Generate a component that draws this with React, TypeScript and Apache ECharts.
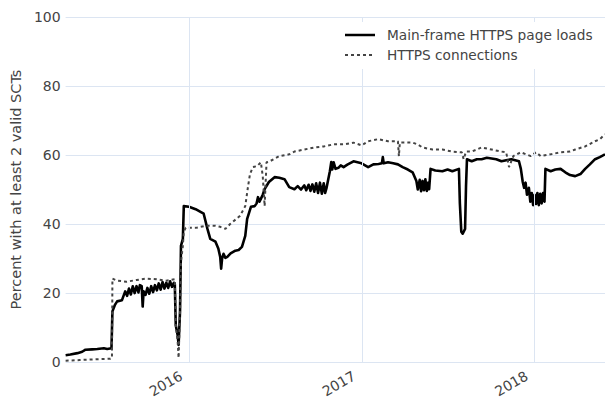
import React, { useEffect, useRef } from "react";
import * as echarts from "echarts";

const yearTicks: string[] = ["2016-01-01", "2017-01-01", "2018-01-01"];
const xRange: string[] = ["2015-04-15", "2018-05-30"];
const yTicks: number[] = [0, 20, 40, 60, 80, 100];
const seriesNames: string[] = ["Main-frame HTTPS page loads", "HTTPS connections"];

const mainFrameLoads: [string, number][] = [
  ["2015-04-15", 2.0], ["2015-04-25", 2.2], ["2015-05-10", 2.6], ["2015-05-20", 3.0], ["2015-05-27", 3.6],
  ["2015-06-10", 3.7], ["2015-06-21", 3.8], ["2015-07-05", 4.0], ["2015-07-12", 3.8], ["2015-07-21", 4.0],
  ["2015-07-23", 14.7], ["2015-07-28", 16.5], ["2015-08-02", 17.6], ["2015-08-12", 17.9], ["2015-08-19", 20.5],
  ["2015-08-23", 19.2], ["2015-08-27", 21.3], ["2015-08-31", 19.6], ["2015-09-04", 22.0], ["2015-09-08", 20.0],
  ["2015-09-12", 22.0], ["2015-09-16", 20.2], ["2015-09-19", 22.3], ["2015-09-23", 22.0], ["2015-09-25", 16.1],
  ["2015-09-27", 20.5], ["2015-10-01", 19.5], ["2015-10-05", 21.5], ["2015-10-09", 19.8], ["2015-10-13", 22.0],
  ["2015-10-17", 20.3], ["2015-10-21", 22.3], ["2015-10-25", 20.8], ["2015-10-29", 22.8], ["2015-11-02", 21.0],
  ["2015-11-06", 23.2], ["2015-11-10", 21.3], ["2015-11-14", 23.0], ["2015-11-18", 21.5], ["2015-11-22", 23.4],
  ["2015-11-26", 21.8], ["2015-11-30", 23.0], ["2015-12-02", 22.5], ["2015-12-04", 10.7], ["2015-12-08", 7.8],
  ["2015-12-10", 5.0], ["2015-12-13", 14.7], ["2015-12-15", 33.7], ["2015-12-19", 35.7], ["2015-12-21", 45.2],
  ["2016-01-01", 45.0], ["2016-01-15", 44.3], ["2016-02-01", 43.0], ["2016-02-09", 38.6], ["2016-02-15", 35.7],
  ["2016-02-26", 34.9], ["2016-03-03", 32.9], ["2016-03-07", 30.5], ["2016-03-09", 27.1], ["2016-03-11", 30.0],
  ["2016-03-14", 31.4], ["2016-03-18", 30.2], ["2016-03-22", 30.5], ["2016-03-29", 31.5], ["2016-04-08", 32.3],
  ["2016-04-15", 32.5], ["2016-04-22", 33.4], ["2016-04-29", 36.6], ["2016-05-03", 41.5], ["2016-05-11", 45.0],
  ["2016-05-19", 45.2], ["2016-05-23", 46.0], ["2016-05-26", 47.8], ["2016-05-29", 46.5], ["2016-06-01", 47.3],
  ["2016-06-05", 48.5], ["2016-06-09", 50.1], ["2016-06-18", 52.2], ["2016-06-30", 53.6], ["2016-07-10", 53.4],
  ["2016-07-21", 53.0], ["2016-07-31", 50.7], ["2016-08-11", 50.1], ["2016-08-18", 51.0], ["2016-08-25", 50.0],
  ["2016-09-01", 51.2], ["2016-09-05", 49.8], ["2016-09-10", 51.4], ["2016-09-14", 49.6], ["2016-09-18", 51.5],
  ["2016-09-22", 49.4], ["2016-09-26", 51.8], ["2016-09-30", 49.0], ["2016-10-04", 52.0], ["2016-10-08", 48.8],
  ["2016-10-12", 51.8], ["2016-10-15", 49.0], ["2016-10-18", 50.5], ["2016-10-25", 55.3], ["2016-10-28", 58.0],
  ["2016-10-30", 55.8], ["2016-11-02", 57.9], ["2016-11-06", 56.0], ["2016-11-12", 56.3], ["2016-11-17", 57.0],
  ["2016-11-23", 56.5], ["2016-12-01", 57.2], ["2016-12-14", 58.2], ["2016-12-31", 57.6], ["2017-01-14", 56.5],
  ["2017-01-25", 57.3], ["2017-02-05", 57.4], ["2017-02-12", 57.6], ["2017-02-14", 59.4], ["2017-02-16", 57.6],
  ["2017-02-25", 57.9], ["2017-03-08", 57.6], ["2017-03-18", 57.3], ["2017-03-28", 56.5], ["2017-04-08", 55.8],
  ["2017-04-18", 55.0], ["2017-04-26", 52.5], ["2017-04-29", 50.0], ["2017-05-03", 52.8], ["2017-05-06", 49.5],
  ["2017-05-09", 52.5], ["2017-05-12", 49.8], ["2017-05-15", 53.0], ["2017-05-18", 49.6], ["2017-05-21", 52.0],
  ["2017-05-23", 50.1], ["2017-05-26", 56.0], ["2017-06-05", 55.5], ["2017-06-20", 55.3], ["2017-07-01", 55.8],
  ["2017-07-11", 55.3], ["2017-07-25", 56.0], ["2017-07-27", 46.0], ["2017-07-30", 37.8], ["2017-08-02", 37.2],
  ["2017-08-07", 38.6], ["2017-08-09", 51.0], ["2017-08-11", 58.8], ["2017-08-21", 58.2], ["2017-09-01", 58.8],
  ["2017-09-11", 58.8], ["2017-09-22", 59.2], ["2017-10-02", 59.0], ["2017-10-12", 58.8], ["2017-10-23", 58.2],
  ["2017-11-02", 58.5], ["2017-11-13", 58.8], ["2017-11-29", 58.2], ["2017-12-03", 56.0], ["2017-12-07", 52.2],
  ["2017-12-10", 50.5], ["2017-12-13", 52.0], ["2017-12-16", 48.5], ["2017-12-20", 50.5], ["2017-12-23", 46.5],
  ["2017-12-26", 49.0], ["2017-12-29", 45.5], ["2018-01-01", 48.5], ["2018-01-04", 45.8], ["2018-01-07", 49.0],
  ["2018-01-10", 45.5], ["2018-01-13", 48.8], ["2018-01-16", 46.0], ["2018-01-19", 49.0], ["2018-01-22", 46.5],
  ["2018-01-24", 56.0], ["2018-02-04", 55.3], ["2018-02-14", 55.8], ["2018-02-25", 56.0], ["2018-03-07", 55.0],
  ["2018-03-17", 54.2], ["2018-03-28", 53.9], ["2018-04-08", 54.5], ["2018-04-18", 56.0], ["2018-04-28", 57.3],
  ["2018-05-09", 58.8], ["2018-05-19", 59.4], ["2018-05-30", 60.2],
];

const httpsConnections: [string, number][] = [
  ["2015-04-15", 0.4], ["2015-05-15", 0.6], ["2015-06-15", 0.8], ["2015-07-19", 1.0], ["2015-07-22", 1.2],
  ["2015-07-23", 24.2], ["2015-08-02", 23.6], ["2015-08-22", 23.3], ["2015-09-12", 23.8], ["2015-10-03", 24.2],
  ["2015-10-24", 24.0], ["2015-11-14", 23.6], ["2015-12-02", 24.0], ["2015-12-04", 10.7], ["2015-12-08", 6.0],
  ["2015-12-10", 1.2], ["2015-12-13", 14.7], ["2015-12-15", 29.0], ["2015-12-19", 33.7], ["2015-12-21", 37.8],
  ["2015-12-25", 38.9], ["2016-01-15", 38.9], ["2016-02-05", 39.5], ["2016-02-26", 39.5], ["2016-03-07", 39.2],
  ["2016-03-18", 38.6], ["2016-03-28", 40.0], ["2016-04-18", 42.4], ["2016-04-29", 45.2], ["2016-05-05", 51.0],
  ["2016-05-09", 54.5], ["2016-05-15", 56.5], ["2016-05-24", 56.8], ["2016-06-01", 57.9], ["2016-06-05", 53.9],
  ["2016-06-09", 45.2], ["2016-06-13", 57.9], ["2016-06-20", 58.2], ["2016-07-10", 59.7], ["2016-07-31", 60.2],
  ["2016-08-11", 61.0], ["2016-09-01", 61.6], ["2016-09-22", 62.2], ["2016-10-12", 62.5], ["2016-11-02", 63.1],
  ["2016-11-23", 63.1], ["2016-12-14", 63.6], ["2016-12-31", 62.8], ["2017-01-14", 64.0], ["2017-02-04", 64.6],
  ["2017-02-25", 64.0], ["2017-03-18", 64.0], ["2017-03-20", 59.7], ["2017-03-22", 63.6], ["2017-04-18", 63.6],
  ["2017-04-28", 63.1], ["2017-05-09", 62.2], ["2017-05-30", 61.6], ["2017-06-20", 61.6], ["2017-07-11", 61.0],
  ["2017-07-31", 60.8], ["2017-08-04", 58.8], ["2017-08-09", 61.0], ["2017-08-21", 61.0], ["2017-09-11", 62.2],
  ["2017-10-02", 61.6], ["2017-10-23", 61.0], ["2017-11-02", 60.8], ["2017-11-08", 56.5], ["2017-11-17", 59.7],
  ["2017-12-03", 60.8], ["2017-12-24", 59.7], ["2018-01-04", 60.8], ["2018-01-14", 59.7], ["2018-02-04", 60.2],
  ["2018-02-25", 60.8], ["2018-03-17", 61.0], ["2018-03-28", 61.6], ["2018-04-18", 62.5], ["2018-05-09", 64.0],
  ["2018-05-19", 64.6], ["2018-05-30", 66.0],
];

const FONT = "DejaVu Sans";
const FONT_SIZE = 14;
const GRID_COLOR = "#dce5f2";
const TEXT_COLOR = "#444";

function ts(d: string): number {
  const [y, m, day] = d.split("-").map(Number);
  return Date.UTC(y, m - 1, day);
}

export default function App() {
  const ref = useRef<HTMLDivElement>(null);
  useEffect(() => {
    if (!ref.current) return;
    const chart = echarts.init(ref.current, undefined, { renderer: "svg" });
    const yearVals = yearTicks.map(ts);
    chart.setOption({
      animation: false,
      backgroundColor: "#fff",
      grid: { left: 58, right: 0, top: 17, bottom: 36, containLabel: false },
      xAxis: {
        type: "value",
        min: ts(xRange[0]),
        max: ts(xRange[1]),
        axisLine: { show: false },
        axisTick: { show: false, customValues: yearVals },
        splitLine: { show: false },
        axisLabel: {
          customValues: yearVals,
          formatter: (v: number) => String(new Date(v).getUTCFullYear()),
          rotate: 30,
          margin: 8,
          padding: [0, 9, 0, 0],
          color: TEXT_COLOR,
          fontSize: FONT_SIZE,
          fontFamily: FONT,
        },
      },
      yAxis: {
        type: "value",
        min: yTicks[0],
        max: yTicks[yTicks.length - 1],
        interval: 20,
        axisLine: { show: false },
        axisTick: { show: false },
        splitLine: { show: true, lineStyle: { color: GRID_COLOR, width: 1 } },
        axisLabel: { color: TEXT_COLOR, fontSize: FONT_SIZE, fontFamily: FONT, margin: 5 },
        name: "Percent with at least 2 valid SCTs",
        nameLocation: "middle",
        nameGap: 34,
        nameTextStyle: { color: TEXT_COLOR, fontSize: 14.5, fontFamily: FONT },
      },
      series: [
        {
          name: "year-grid",
          type: "line",
          data: [],
          z: 0,
          silent: true,
          markLine: {
            silent: true,
            symbol: "none",
            label: { show: false },
            lineStyle: { color: GRID_COLOR, width: 1, type: "solid" },
            data: yearVals.map((v) => ({ xAxis: v })),
          },
        },
        {
          name: seriesNames[0],
          type: "line",
          showSymbol: false,
          symbol: "none",
          data: mainFrameLoads.map(([d, v]) => [ts(d), v]),
          lineStyle: { color: "#000", width: 2.6, join: "round" },
          z: 2,
        },
        {
          name: seriesNames[1],
          type: "line",
          showSymbol: false,
          symbol: "none",
          data: httpsConnections.map(([d, v]) => [ts(d), v]),
          lineStyle: { color: "#444", width: 2, type: [3, 3] },
          z: 3,
        },
      ],
      graphic: [
        { type: "rect", shape: { x: 340, y: 22, width: 265, height: 47 }, style: { fill: "#fff" }, z: 10 },
        { type: "line", shape: { x1: 345, y1: 35, x2: 375, y2: 35 }, style: { stroke: "#000", lineWidth: 2.5 }, z: 11 },
        { type: "line", shape: { x1: 345, y1: 55, x2: 375, y2: 55 }, style: { stroke: "#444", lineWidth: 2, lineDash: [3, 3] }, z: 11 },
        { type: "text", x: 387, y: 35, style: { text: seriesNames[0], fill: TEXT_COLOR, font: `13.7px "${FONT}"`, verticalAlign: "middle", align: "left" }, z: 11 },
        { type: "text", x: 387, y: 55, style: { text: seriesNames[1], fill: TEXT_COLOR, font: `13.7px "${FONT}"`, verticalAlign: "middle", align: "left" }, z: 11 },
      ],
    });
    return () => chart.dispose();
  }, []);
  return <div ref={ref} style={{ position: "absolute", left: 0, top: 0, width: 605, height: 400 }} />;
}
